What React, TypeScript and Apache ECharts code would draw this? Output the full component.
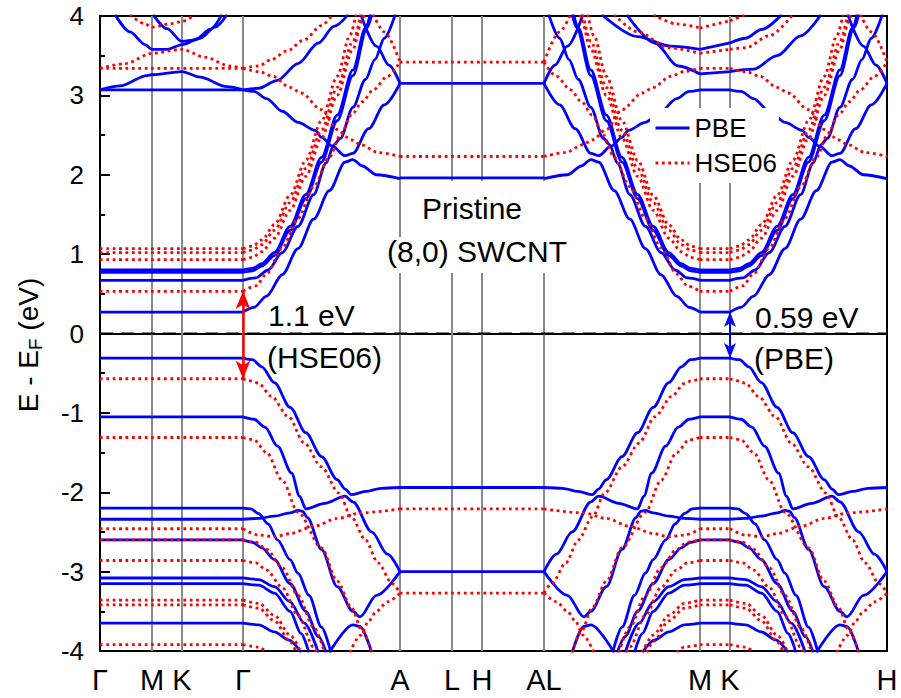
import React, { useEffect, useRef } from 'react';
import * as echarts from 'echarts';

const FONT = "'Liberation Sans', Arial, Helvetica, sans-serif";

// k-path positions (arbitrary path units) and labels
const kPoints = [0, 52, 82, 143, 300, 352, 382, 444, 600, 630, 787];
const kLabels = ['Γ', 'M', 'K', 'Γ', 'A', 'L', 'H', 'AL', 'M', 'K', 'H'];
const yTicks = [-4, -3, -2, -1, 0, 1, 2, 3, 4];

// dispersive segments: [start(t=0), end(t=1)]
const segGA = [143, 300];
const segALM = [600, 444];
const segKH = [630, 787];

// flat bands on Γ-M-K-Γ and M-K
const flatPBE = [3.07, 0.8, 0.77, 0.67, 0.27, -0.31, -1.05, -2.2, -2.34, -2.6, -3.08, -3.15, -3.65];
const flatHSE = [3.34, 1.07, 1.02, 0.93, 0.53, -0.57, -1.31, -2.46, -2.6, -2.86, -3.36, -3.42, -3.92];
// flat bands on A-L-H-A
const flatPBE_A = [3.15, 1.96, -1.94, -3.0];
const flatHSE_A = [3.42, 2.23, -2.21, -3.27];

// high-energy bands on Γ-M-K-Γ (k, E)
const pbeLeftHump = [[0, 3.07], [20, 3.12], [47, 3.25], [52, 3.26], [82, 3.3], [100, 3.23], [127, 3.11], [143, 3.07]];
const pbeLeftTopA = [[15, 4.02], [30, 3.8], [45, 3.64], [52, 3.58], [67, 3.58], [82, 3.64], [100, 3.72], [115, 3.86], [127, 4.02]];
const pbeLeftTopB = [[53, 4.02], [67, 3.84], [82, 3.68], [95, 3.7], [110, 3.83], [122, 4.02]];
const hseLeftHump = [[0, 3.34], [25, 3.4], [52, 3.53], [82, 3.58], [105, 3.48], [130, 3.37], [143, 3.34]];
const hseLeftTop = [[30, 4.02], [45, 3.9], [52, 3.86], [70, 3.9], [82, 3.93], [95, 4.02]];
// high-energy bands on right M-K
const pbeRightMK = [[[600, 3.27], [630, 3.3]], [[600, 3.58], [630, 3.66]]];
const hseRightMK = [[[600, 3.53], [630, 3.58]], [[600, 3.85], [630, 3.94]]];

// dispersive bands (t along segment, E), PBE
const pbeV1 = [[0, -0.31], [0.06, -0.33], [0.12, -0.42], [0.2, -0.62], [0.3, -0.93], [0.4, -1.25], [0.5, -1.55], [0.6, -1.84], [0.65, -1.96], [0.69, -2.03], [0.78, -1.99], [0.88, -1.95], [1, -1.94]];
const pbeV2 = [[0, -1.05], [0.07, -1.08], [0.14, -1.18], [0.22, -1.42], [0.31, -1.76], [0.36, -2.05], [0.4, -2.21], [0.52, -2.14], [0.65, -2.05], [0.7, -2.12], [0.82, -2.5], [0.92, -2.78], [1, -3.0]];
const pbeV3 = [[0, -2.2], [0.05, -2.21], [0.1, -2.27], [0.16, -2.4], [0.22, -2.6], [0.3, -2.85], [0.35, -3.02], [0.42, -3.3], [0.5, -3.7], [0.56, -4.02]];
const pbeV4 = [[0, -2.34], [0.1, -2.33], [0.2, -2.3], [0.3, -2.26], [0.35, -2.23], [0.38, -2.24], [0.41, -2.32], [0.5, -2.72], [0.6, -3.19], [0.7, -3.5], [0.745, -3.57], [0.85, -3.3], [1, -3.0]];
const pbeV5 = [[0, -2.6], [0.06, -2.63], [0.12, -2.7], [0.2, -2.85], [0.3, -3.15], [0.4, -3.5], [0.48, -3.82], [0.53, -4.02]];
const pbeV6 = [[0, -3.08], [0.1, -3.1], [0.2, -3.19], [0.3, -3.38], [0.39, -3.65], [0.48, -4.02]];
const pbeV7 = [[0, -3.15], [0.1, -3.17], [0.2, -3.27], [0.3, -3.5], [0.37, -3.78], [0.42, -4.02]];
const pbeV8 = [[0, -3.65], [0.1, -3.67], [0.2, -3.76], [0.29, -3.86], [0.37, -4.02]];
const pbeV9 = [[0.55, -4.02], [0.7, -3.67], [0.745, -3.69], [0.82, -4.02]];
const pbeC1 = [[0, 0.27], [0.07, 0.33], [0.15, 0.47], [0.25, 0.74], [0.35, 1.07], [0.45, 1.44], [0.55, 1.8], [0.65, 2.16], [0.7, 2.19], [0.76, 2.11], [0.85, 2.0], [1, 1.95]];
const pbeCb1 = [[0, 0.8], [0.06, 0.82], [0.12, 0.88], [0.2, 1.02], [0.3, 1.35], [0.4, 1.75], [0.5, 2.22], [0.6, 2.75], [0.7, 3.32], [0.78, 3.85], [0.81, 4.02]];
const pbeCb2 = [[0, 0.77], [0.06, 0.79], [0.12, 0.85], [0.2, 0.98], [0.3, 1.3], [0.4, 1.7], [0.5, 2.16], [0.6, 2.68], [0.7, 3.25], [0.79, 3.85], [0.82, 4.02]];
const pbeCb3 = [[0, 0.67], [0.08, 0.7], [0.16, 0.8], [0.25, 1.02], [0.35, 1.35], [0.45, 1.75], [0.53, 2.15], [0.58, 2.38], [0.62, 2.46], [0.7, 2.85], [0.78, 3.2], [0.84, 3.45], [0.9, 3.72], [0.97, 4.02]];
const pbeChump = [[0, 3.07], [0.07, 3.05], [0.15, 2.96], [0.25, 2.8], [0.35, 2.66], [0.46, 2.56], [0.5, 2.47], [0.57, 2.36], [0.65, 2.24], [0.7, 2.27], [0.8, 2.58], [0.9, 2.88], [1, 3.15]];
const pbeCdown = [[0.75, 4.02], [0.85, 3.62], [0.93, 3.38], [1, 3.15]];

// dispersive bands, HSE06
const hseV1 = [[0, -0.57], [0.06, -0.6], [0.1, -0.63], [0.18, -0.79], [0.29, -1.05], [0.39, -1.38], [0.5, -1.68], [0.61, -2.01], [0.69, -2.31], [0.78, -2.6], [0.86, -2.89], [0.95, -3.15], [1, -3.27]];
const hseV2 = [[0, -1.31], [0.07, -1.34], [0.15, -1.5], [0.25, -1.85], [0.35, -2.25], [0.5, -2.7], [0.6, -3.12], [0.69, -3.45], [0.76, -3.75], [0.82, -4.02]];
const hseV3 = [[0, -2.46], [0.1, -2.54], [0.2, -2.56], [0.3, -2.52], [0.45, -2.43], [0.6, -2.33], [0.75, -2.26], [1, -2.21]];
const hseV4 = [[0.68, -4.02], [0.75, -3.8], [0.8, -3.62], [0.85, -3.5], [0.92, -3.38], [1, -3.27]];
const hseV5 = [[0, -2.6], [0.08, -2.63], [0.15, -2.72], [0.25, -2.95], [0.35, -3.3], [0.45, -3.7], [0.52, -4.02]];
const hseV6 = [[0, -2.86], [0.08, -2.89], [0.15, -2.98], [0.25, -3.2], [0.35, -3.55], [0.45, -3.95], [0.47, -4.02]];
const hseV7 = [[0, -3.36], [0.1, -3.4], [0.2, -3.55], [0.3, -3.8], [0.37, -4.02]];
const hseV8 = [[0, -3.42], [0.1, -3.46], [0.2, -3.62], [0.3, -3.88], [0.34, -4.02]];
const hseV9 = [[0, -3.92], [0.1, -3.95], [0.15, -4.02]];
const hseC1 = [[0, 0.53], [0.08, 0.6], [0.15, 0.75], [0.25, 1.08], [0.35, 1.45], [0.45, 1.85], [0.55, 2.22], [0.62, 2.5], [0.69, 2.75], [0.76, 2.92], [0.83, 3.07], [0.92, 3.24], [1, 3.42]];
const hseCb1 = [[0, 0.93], [0.06, 0.96], [0.12, 1.03], [0.2, 1.2], [0.3, 1.55], [0.4, 1.98], [0.5, 2.46], [0.6, 3.0], [0.7, 3.58], [0.76, 3.95], [0.77, 4.02]];
const hseCb2 = [[0, 1.02], [0.06, 1.05], [0.12, 1.12], [0.2, 1.3], [0.3, 1.65], [0.4, 2.08], [0.5, 2.56], [0.6, 3.1], [0.7, 3.68], [0.75, 4.02]];
const hseCb3 = [[0, 1.07], [0.06, 1.1], [0.12, 1.18], [0.2, 1.37], [0.3, 1.74], [0.4, 2.18], [0.5, 2.68], [0.6, 3.24], [0.68, 3.75], [0.72, 4.02]];
const hseChump = [[0, 3.34], [0.1, 3.3], [0.19, 3.24], [0.3, 3.1], [0.37, 3.03], [0.5, 2.82], [0.6, 2.57], [0.69, 2.44], [0.75, 2.38], [0.86, 2.28], [1, 2.23]];
const hseCdown = [[0.83, 4.02], [0.9, 3.8], [1, 3.42]];

// segment-specific upper branches
const pbeUpGA = [[[0, 3.07], [0.1, 3.09], [0.22, 3.19], [0.35, 3.4], [0.48, 3.66], [0.58, 3.87], [0.67, 4.02]]];
const hseUpGA = [[[0, 3.34], [0.1, 3.37], [0.18, 3.45], [0.28, 3.56], [0.39, 3.7], [0.5, 3.88], [0.57, 4.02]]];
const pbeUpALM = [[[0, 3.27], [0.14, 3.37], [0.29, 3.66], [0.47, 4.02]], [[0, 3.58], [0.19, 3.62], [0.4, 3.74], [0.63, 4.02]]];
const hseUpALM = [[[0, 3.53], [0.2, 3.6], [0.4, 3.8], [0.55, 4.02]], [[0, 3.85], [0.15, 3.9], [0.3, 4.02]]];
const pbeUpKH = [[[0, 3.3], [0.15, 3.33], [0.3, 3.5], [0.45, 3.75], [0.58, 4.02]], [[0, 3.66], [0.1, 3.72], [0.2, 3.83], [0.33, 4.02]]];
const hseUpKH = [[[0, 3.58], [0.1, 3.6], [0.25, 3.75], [0.4, 4.02]], [[0, 3.94], [0.1, 4.02]]];

const pbeShared = [pbeV1, pbeV2, pbeV3, pbeV4, pbeV5, pbeV6, pbeV7, pbeV8, pbeV9, pbeC1, pbeCb1, pbeCb2, pbeCb3, pbeChump, pbeCdown];
const hseShared = [hseV1, hseV2, hseV3, hseV4, hseV5, hseV6, hseV7, hseV8, hseV9, hseC1, hseCb1, hseCb2, hseCb3, hseChump, hseCdown];

// gaps
const gapHSE = [143, 0.535, -0.57];
const gapPBE = [630, 0.27, -0.31];

const BLUE = '#0000ff';
const RED = '#ff0000';

function mapSeg(curve: number[][], seg: number[]) {
  const [a, b] = seg;
  return curve.map(([t, e]) => [a + (b - a) * t, e]).sort((p, q) => p[0] - q[0]);
}

function band(name: string, data: number[][]) {
  const pbe = name === 'PBE';
  return {
    type: 'line',
    name,
    data,
    symbol: 'none',
    smooth: 0.3,
    smoothMonotone: 'x',
    silent: true,
    z: pbe ? 2 : 3,
    emphasis: { disabled: true },
    itemStyle: { color: pbe ? BLUE : RED },
    lineStyle: pbe
      ? { color: BLUE, width: 2.8, type: 'solid' }
      : { color: RED, width: 2.8, type: [2.8, 3.6] },
  };
}

function buildSeries() {
  const s: any[] = [];
  kPoints.slice(1, -1).forEach((k) => {
    s.push({
      type: 'line', data: [[k, -4], [k, 4]], symbol: 'none', silent: true, z: 1,
      lineStyle: { color: '#8a8a8a', width: 2 }, emphasis: { disabled: true },
    });
  });
  s.push({
    type: 'line', data: [[0, 0], [787, 0]], symbol: 'none', silent: true, z: 4,
    lineStyle: { color: '#000', width: 2, type: [13, 8] }, emphasis: { disabled: true },
  });
  const flatRanges = [[0, 143], [600, 630]];
  flatRanges.forEach(([x0, x1]) => {
    flatPBE.forEach((e) => s.push(band('PBE', [[x0, e], [x1, e]])));
    flatHSE.forEach((e) => s.push(band('HSE06', [[x0, e], [x1, e]])));
  });
  flatPBE_A.forEach((e) => s.push(band('PBE', [[300, e], [444, e]])));
  flatHSE_A.forEach((e) => s.push(band('HSE06', [[300, e], [444, e]])));
  [pbeLeftHump, pbeLeftTopA, pbeLeftTopB].forEach((c) => s.push(band('PBE', c)));
  [hseLeftHump, hseLeftTop].forEach((c) => s.push(band('HSE06', c)));
  pbeRightMK.forEach((c) => s.push(band('PBE', c)));
  hseRightMK.forEach((c) => s.push(band('HSE06', c)));
  [segGA, segALM, segKH].forEach((seg) => {
    pbeShared.forEach((c) => s.push(band('PBE', mapSeg(c, seg))));
    hseShared.forEach((c) => s.push(band('HSE06', mapSeg(c, seg))));
  });
  pbeUpGA.forEach((c) => s.push(band('PBE', mapSeg(c, segGA))));
  hseUpGA.forEach((c) => s.push(band('HSE06', mapSeg(c, segGA))));
  pbeUpALM.forEach((c) => s.push(band('PBE', mapSeg(c, segALM))));
  hseUpALM.forEach((c) => s.push(band('HSE06', mapSeg(c, segALM))));
  pbeUpKH.forEach((c) => s.push(band('PBE', mapSeg(c, segKH))));
  hseUpKH.forEach((c) => s.push(band('HSE06', mapSeg(c, segKH))));
  s.push({
    type: 'line', name: 'gapHSE', data: [], symbol: 'none', z: 6,
    markLine: {
      silent: true, symbol: ['arrow', 'arrow'], symbolSize: [11, 18], label: { show: false },
      lineStyle: { color: RED, width: 2.5, type: 'solid' }, emphasis: { disabled: true },
      data: [[{ coord: [gapHSE[0], gapHSE[1]] }, { coord: [gapHSE[0], gapHSE[2]] }]],
    },
  });
  s.push({
    type: 'line', name: 'gapPBE', data: [], symbol: 'none', z: 6,
    markLine: {
      silent: true, symbol: ['arrow', 'arrow'], symbolSize: [9, 15], label: { show: false },
      lineStyle: { color: BLUE, width: 2, type: 'solid' }, emphasis: { disabled: true },
      data: [[{ coord: [gapPBE[0], gapPBE[1]] }, { coord: [gapPBE[0], gapPBE[2]] }]],
    },
  });
  return s;
}

export default function App() {
  const ref = useRef<HTMLDivElement>(null);
  useEffect(() => {
    document.body.style.margin = '0';
    const chart = echarts.init(ref.current!, null, { renderer: 'svg' });
    const option: any = {
      animation: false,
      backgroundColor: '#fff',
      grid: { left: 100, right: 14, top: 16, bottom: 47, show: true, borderColor: '#000', borderWidth: 2, backgroundColor: 'transparent' },
      legend: {
        data: ['PBE', 'HSE06'], orient: 'vertical', left: 650, top: 108,
        itemWidth: 34, itemHeight: 14, itemGap: 9, itemTextGap: 7,
        padding: [7, 2, 7, 4], backgroundColor: '#fff', selectedMode: false,
        itemStyle: { opacity: 0, borderWidth: 0 },
        lineStyle: { width: 3 },
        textStyle: { fontSize: 26, fontFamily: FONT, color: '#000' },
      },
      xAxis: {
        type: 'value', min: 0, max: 787,
        axisLine: { show: true, lineStyle: { color: '#000', width: 2 } },
        axisTick: { show: true, inside: true, length: 12, customValues: kPoints.slice(1, -1), lineStyle: { color: '#000', width: 2 } },
        axisLabel: {
          show: true, customValues: kPoints, margin: 14, fontSize: 29, fontFamily: FONT, color: '#000',
          formatter: (v: number) => { const i = kPoints.indexOf(Math.round(v)); return i >= 0 ? kLabels[i] : ''; },
        },
        splitLine: { show: false },
      },
      yAxis: {
        type: 'value', min: -4, max: 4, interval: 1,
        axisLine: { show: true, lineStyle: { color: '#000', width: 2 } },
        axisTick: { show: true, inside: true, length: 10, lineStyle: { color: '#000', width: 2 } },
        minorTick: { show: true, splitNumber: 2, length: 5, lineStyle: { color: '#000', width: 2 } },
        axisLabel: { margin: 16, fontSize: 26, fontFamily: FONT, color: '#000', customValues: yTicks },
        splitLine: { show: false },
      },
      graphic: [
        { type: 'rect', z: 1.5, silent: true, shape: { x: 410, y: 181, width: 150, height: 57 }, style: { fill: '#fff' } },
        { type: 'rect', z: 1.5, silent: true, shape: { x: 372, y: 237, width: 213, height: 36 }, style: { fill: '#fff' } },
        { type: 'text', z: 10, x: 472, y: 208, style: { text: 'Pristine', fontSize: 30, fontFamily: FONT, fill: '#000', align: 'center', verticalAlign: 'middle' } },
        { type: 'text', z: 10, x: 477, y: 251, style: { text: '(8,0) SWCNT', fontSize: 30, fontFamily: FONT, fill: '#000', align: 'center', verticalAlign: 'middle' } },
        { type: 'text', z: 10, x: 268, y: 315, style: { text: '1.1 eV', fontSize: 30, fontFamily: FONT, fill: '#000', align: 'left', verticalAlign: 'middle' } },
        { type: 'text', z: 10, x: 267, y: 357, style: { text: '(HSE06)', fontSize: 30, fontFamily: FONT, fill: '#000', align: 'left', verticalAlign: 'middle' } },
        { type: 'text', z: 10, x: 755, y: 317, style: { text: '0.59 eV', fontSize: 30, fontFamily: FONT, fill: '#000', align: 'left', verticalAlign: 'middle' } },
        { type: 'text', z: 10, x: 754, y: 358, style: { text: '(PBE)', fontSize: 30, fontFamily: FONT, fill: '#000', align: 'left', verticalAlign: 'middle' } },
        {
          type: 'text', z: 10, x: 28, y: 345, rotation: Math.PI / 2,
          style: {
            text: '{a|E - E}{b|F}{a| (eV)}', align: 'center', verticalAlign: 'middle', fill: '#000',
            rich: {
              a: { fontSize: 28, fontFamily: FONT, fill: '#000', lineHeight: 34 },
              b: { fontSize: 19, fontFamily: FONT, fill: '#000', lineHeight: 34, verticalAlign: 'bottom' },
            },
          },
        },
      ],
      series: buildSeries(),
    };
    chart.setOption(option);
    return () => chart.dispose();
  }, []);
  return <div ref={ref} style={{ width: 901, height: 698 }} />;
}
